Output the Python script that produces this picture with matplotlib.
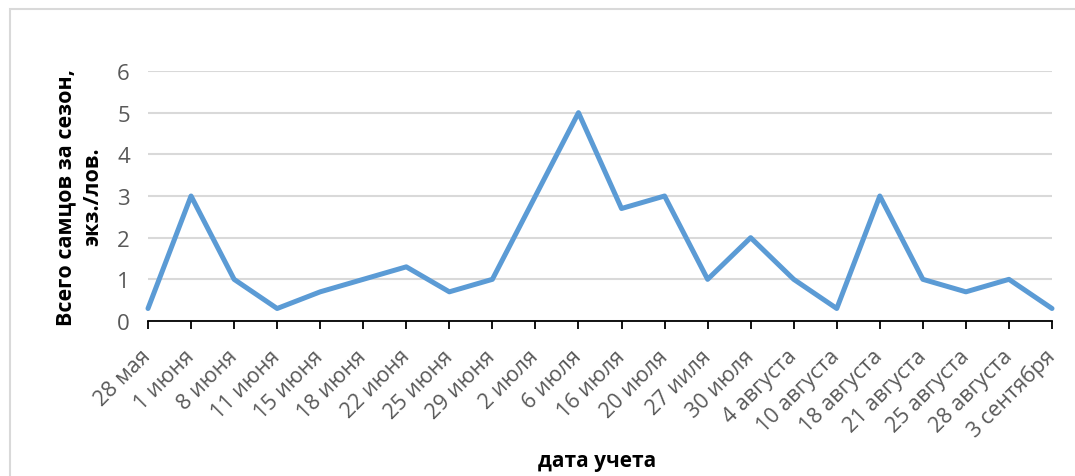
import matplotlib
matplotlib.use("Agg")
import matplotlib.pyplot as plt
from matplotlib.patches import Rectangle

dates = ["28 мая", "1 июня", "8 июня", "11 июня", "15 июня", "18 июня",
         "22 июня", "25 июня", "29 июня", "2 июля", "6 июля", "16 июля",
         "20 июля", "27 иил\u044f", "30 июля", "4 августа", "10 августа",
         "18 августа", "21 августа", "25 августа", "28 августа", "3 сентября"]
males = [0.3, 3, 1, 0.3, 0.7, 1, 1.3, 0.7, 1, 3, 5, 2.7,
         3, 1, 2, 1, 0.3, 3, 1, 0.7, 1, 0.3]
y_ticks = [0, 1, 2, 3, 4, 5, 6]

plt.rcParams['font.family'] = ['Open Sans', 'DejaVu Sans']

fig = plt.figure(figsize=(10.75, 4.77), dpi=100)
ax = fig.add_axes([148 / 1075, 1 - 322 / 477, (1052 - 148) / 1075, (322 - 72) / 477])

x = list(range(len(dates)))
ax.plot(x, males, color="#5B9BD5", lw=3.6, solid_joinstyle="round",
        solid_capstyle="round", zorder=3, clip_on=False)

ax.set_xlim(0, len(dates) - 1)
ax.set_ylim(0, 6)
ax.set_yticks(y_ticks)
ax.set_xticks(x)
ax.set_xticklabels(dates, rotation=45, ha="right", va="center",
                   rotation_mode="anchor", fontsize=15.5, color="#595959")
ax.tick_params(axis="x", length=6, width=1.3, color="#000000", pad=17)
ax.tick_params(axis="y", length=0, labelsize=16, labelcolor="#595959", pad=13)

ax.grid(axis="y", color="#D9D9D9", lw=1.5)
ax.set_axisbelow(True)
for s in ("top", "right", "left"):
    ax.spines[s].set_visible(False)
ax.spines["bottom"].set_color("#000000")
ax.spines["bottom"].set_linewidth(1.3)
ax.spines["bottom"].set_zorder(4)

ax.set_ylabel("Всего самцов за сезон,\nэкз./лов.", fontsize=15.5, fontweight="bold",
              color="#000000", labelpad=10, linespacing=1.35)
fig.text(597 / 1075, 1 - 462 / 477, "дата учета", ha="center", va="center",
         fontsize=15, fontweight="bold", color="#000000")

fig.patches.append(Rectangle((10 / 1075, -0.01), 1.1, 1 - 10 / 477 + 0.01,
                             transform=fig.transFigure, fill=False,
                             edgecolor="#D9D9D9", lw=1.5))

fig.savefig("out.png", dpi=100)
